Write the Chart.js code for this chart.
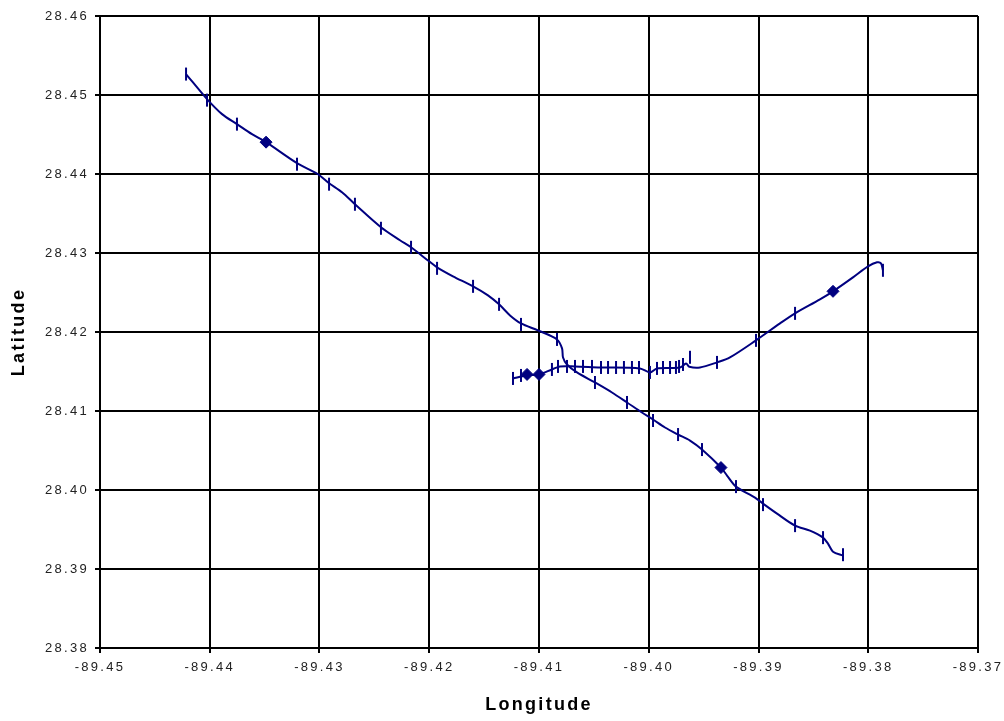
<!DOCTYPE html>
<html>
<head>
<meta charset="utf-8">
<script src="https://cdn.jsdelivr.net/npm/chart.js@4/dist/chart.umd.min.js"></script>
<style>
  html, body { margin: 0; padding: 0; background: #ffffff; }
  #wrap { width: 1004px; height: 721px; }
</style>
</head>
<body>
<div id="wrap"><canvas id="c" width="1004" height="721"></canvas></div>
<script>
// Axis ticks
const lonTicks = [-89.45, -89.44, -89.43, -89.42, -89.41, -89.40, -89.39, -89.38, -89.37];
const latTicks = [28.38, 28.39, 28.40, 28.41, 28.42, 28.43, 28.44, 28.45, 28.46];

// Track 1 (north-west to south-east)
const track1Lon = [-89.44216, -89.44025, -89.43888, -89.43752, -89.43615, -89.43487, -89.43205, -89.43014,
  -89.42913, -89.42795, -89.42677, -89.42440, -89.42267, -89.42166, -89.42002, -89.41929, -89.41784,
  -89.41601, -89.41465, -89.41364, -89.41264, -89.41164, -89.41009, -89.40836, -89.40790, -89.40781,
  -89.40745, -89.40654, -89.40490, -89.40335, -89.40198, -89.40062, -89.39961, -89.39852, -89.39733,
  -89.39624, -89.39515, -89.39342, -89.39287, -89.39205, -89.39032, -89.38959, -89.38831, -89.38667,
  -89.38531, -89.38412, -89.38367, -89.38321, -89.38230];
const track1Lat = [28.45265, 28.44948, 28.44758, 28.44631, 28.44504, 28.44403, 28.44137, 28.43997,
  28.43883, 28.43769, 28.43617, 28.43326, 28.43161, 28.43072, 28.42895, 28.42819, 28.42705,
  28.42578, 28.42464, 28.42350, 28.42210, 28.42109, 28.42020, 28.41906, 28.41792, 28.41678,
  28.41589, 28.41488, 28.41361, 28.41234, 28.41108, 28.40981, 28.40892, 28.40791, 28.40702,
  28.40626, 28.40512, 28.40284, 28.40183, 28.40043, 28.39904, 28.39828, 28.39701, 28.39549,
  28.39485, 28.39397, 28.39321, 28.39219, 28.39169];

// Track 2 (west to east, then north-east)
const track2Lon = [-89.41237, -89.41118, -89.41000, -89.40882, -89.40809, -89.40672, -89.40444, -89.40080,
  -89.39989, -89.39925, -89.39715, -89.39660, -89.39630, -89.39533, -89.39378, -89.39260,
  -89.39023, -89.38804, -89.38667, -89.38440, -89.38321, -89.38139, -89.38002, -89.37920, -89.37884,
  -89.37866];
const track2Lat = [28.41412, 28.41450, 28.41463, 28.41526, 28.41564, 28.41564, 28.41551, 28.41539,
  28.41488, 28.41539, 28.41551, 28.41600, 28.41560, 28.41551, 28.41615, 28.41678,
  28.41894, 28.42109, 28.42236, 28.42413, 28.42515, 28.42692, 28.42831, 28.42882, 28.42869,
  28.42781];

// Timed fixes along the tracks
const fixLon = [-89.44216, -89.44025, -89.43752, -89.43205, -89.42913, -89.42677, -89.42440, -89.42166,
  -89.41929, -89.41601, -89.41364, -89.41164, -89.40836, -89.40490, -89.40198, -89.39961, -89.39733,
  -89.39515, -89.39205, -89.38959, -89.38667, -89.38412, -89.38230,
  -89.41237, -89.41164, -89.40882, -89.40827, -89.40745, -89.40672, -89.40599, -89.40517, -89.40435,
  -89.40371, -89.40298, -89.40226, -89.40153, -89.40089, -89.39989, -89.39925, -89.39870, -89.39806,
  -89.39752, -89.39724, -89.39688, -89.39624, -89.39378, -89.39023, -89.38667, -89.37866];
const fixLat = [28.45265, 28.44935, 28.44631, 28.44124, 28.43871, 28.43617, 28.43313, 28.43072,
  28.42806, 28.42578, 28.42350, 28.42096, 28.41906, 28.41361, 28.41108, 28.40880, 28.40702,
  28.40512, 28.40043, 28.39815, 28.39549, 28.39397, 28.39181,
  28.41412, 28.41450, 28.41526, 28.41564, 28.41564, 28.41564, 28.41564, 28.41564, 28.41551,
  28.41551, 28.41551, 28.41551, 28.41551, 28.41551, 28.41488, 28.41539, 28.41551, 28.41551,
  28.41551, 28.41564, 28.41589, 28.41680, 28.41615, 28.41894, 28.42236, 28.42781];

// Station positions
const stationLon = [-89.43487, -89.39342, -89.41109, -89.41000, -89.38321];
const stationLat = [28.44403, 28.40284, 28.41463, 28.41463, 28.42515];

const NAVY = '#000080';
const toPoints = (xs, ys) => xs.map((x, i) => ({ x: x, y: ys[i] }));

// Wide letter spacing for every label on the chart
const spacing = {
  id: 'spacing',
  beforeLayout(chart) { chart.ctx.letterSpacing = '2.3px'; },
  beforeDraw(chart) { chart.ctx.letterSpacing = '2.3px'; }
};

const labelFont = { family: 'Liberation Sans, Arial', size: 13 };
const titleFont = { family: 'Liberation Sans, Arial', size: 18, weight: 'bold' };

new Chart(document.getElementById('c'), {
  type: 'scatter',
  data: {
    datasets: [
      { data: toPoints(track1Lon, track1Lat), showLine: true, borderColor: NAVY, borderWidth: 2,
        tension: 0.3, pointRadius: 0, fill: false },
      { data: toPoints(track2Lon, track2Lat), showLine: true, borderColor: NAVY, borderWidth: 2,
        tension: 0.3, pointRadius: 0, fill: false },
      { data: toPoints(fixLon, fixLat), showLine: false, pointStyle: 'line', rotation: 90,
        pointRadius: 6.5, borderColor: NAVY, borderWidth: 2, backgroundColor: NAVY },
      { data: toPoints(stationLon, stationLat), showLine: false, pointStyle: 'rectRot',
        pointRadius: 6, borderColor: NAVY, borderWidth: 1, backgroundColor: NAVY }
    ]
  },
  options: {
    responsive: false,
    animation: false,
    events: [],
    layout: { padding: { top: 16, right: 26, bottom: 0, left: 0 } },
    plugins: { legend: { display: false }, tooltip: { enabled: false } },
    scales: {
      x: {
        type: 'linear', min: -89.45, max: -89.37,
        afterBuildTicks(s) { s.ticks = lonTicks.map(v => ({ value: v })); },
        afterFit(s) { s.height = 73; s.paddingLeft = 0; s.paddingRight = 0; },
        ticks: { color: '#222', font: labelFont, padding: 7,
                 maxRotation: 0, autoSkip: false, callback: v => v.toFixed(2) },
        grid: { color: '#000', lineWidth: 2, tickLength: 5, tickColor: '#000', tickWidth: 2 },
        border: { display: true, color: '#000', width: 2 },
        title: { display: true, text: 'Longitude', color: '#000', font: titleFont,
                 padding: { top: 0, bottom: 5 } }
      },
      y: {
        type: 'linear', min: 28.38, max: 28.46,
        afterBuildTicks(s) { s.ticks = latTicks.map(v => ({ value: v })); },
        afterFit(s) { s.width = 100; s.paddingTop = 0; s.paddingBottom = 0; },
        ticks: { color: '#222', font: labelFont, padding: 6,
                 autoSkip: false, callback: v => v.toFixed(2) },
        grid: { color: '#000', lineWidth: 2, tickLength: 5, tickColor: '#000', tickWidth: 2 },
        border: { display: true, color: '#000', width: 2 },
        title: { display: true, text: 'Latitude', color: '#000', font: titleFont,
                 padding: { top: 8, bottom: 0 } }
      }
    }
  },
  plugins: [spacing]
});
</script>
</body>
</html>
